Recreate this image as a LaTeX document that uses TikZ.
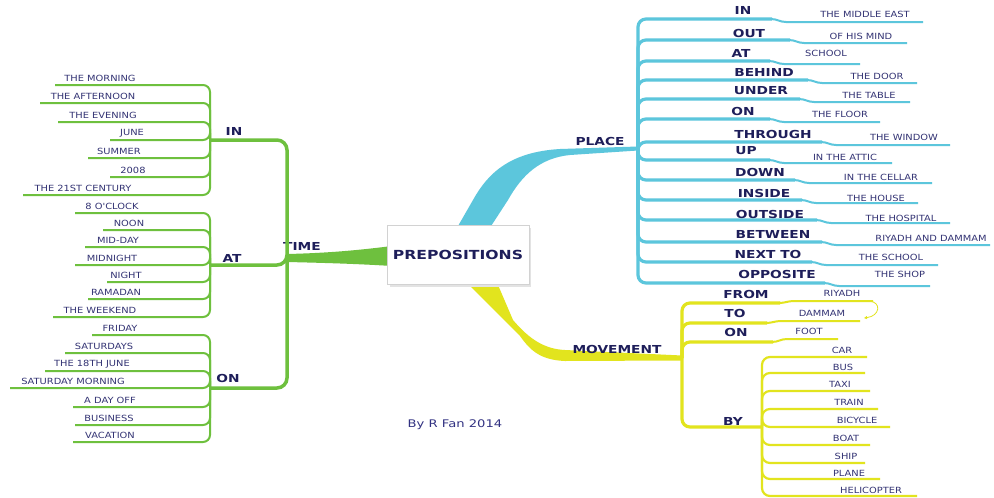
\documentclass[tikz,border=0pt]{standalone}
\usepackage{fontspec}
\setmainfont{DejaVu Sans}
\newfontfamily\leaffont[FakeStretch=1.16]{DejaVu Sans}
\newfontfamily\prepfont[FakeStretch=1.25]{DejaVu Sans}
\usetikzlibrary{arrows.meta}
\definecolor{grn}{RGB}{110,192,62}
\definecolor{blu}{RGB}{92,198,220}
\definecolor{ylw}{RGB}{226,228,30}
\definecolor{navy}{RGB}{30,30,90}
\definecolor{leafc}{RGB}{50,50,115}
\begin{document}
\begin{tikzpicture}[x=1pt,y=-1pt,
  leaf/.style={font=\leaffont\fontsize{8.5}{9}\selectfont, text=leafc, inner sep=0pt},
  prep/.style={font=\prepfont\bfseries\fontsize{11}{12}\selectfont, text=navy, inner sep=0pt},
  gleaf/.style={draw=grn, line width=2pt, rounded corners=7pt},
  gmain/.style={draw=grn, line width=3.5pt, rounded corners=10pt},
  bmain/.style={draw=blu, line width=3.2pt, rounded corners=8pt},
  bobj/.style={draw=blu, line width=2pt},
  ymain/.style={draw=ylw, line width=3.2pt, rounded corners=8pt},
  yobj/.style={draw=ylw, line width=2pt},
  ysub/.style={draw=ylw, line width=2.2pt, rounded corners=8pt}]
\useasboundingbox[fill=white] (0,0) rectangle (994,498);

% junction coordinates
\coordinate (tj) at (287,258);
\coordinate (gin) at (210,140);
\coordinate (gat) at (210,265);
\coordinate (gon) at (210,388);
\coordinate (pj) at (638,148);
\coordinate (mj) at (682,358);
\coordinate (bj) at (762,427);

% main bands
\fill[grn] (tj) ++(0,-4) .. controls (330,253) and (360,250) .. (392,246) -- (392,266) .. controls (360,264) and (330,263) .. (287,262) -- cycle;
\fill[blu] (450,240) -- (473,200) .. controls (488,173) and (510,152) .. (560,149) -- (638,146.5) -- (638,150.5) -- (570,155) .. controls (540,158) and (522,175) .. (508,200) -- (482,240) -- cycle;
\fill[ylw] (462,278) -- (520,336) .. controls (530,350) and (540,360) .. (565,361) -- (682,360.5) -- (682,355.5) -- (565,350) .. controls (545,349) and (530,340) .. (513,320) -- (495,278) -- cycle;

% TIME label (its T partly hidden by the trunk)
\node[prep] (time) at (302,246) {TIME};

% green trunk
\draw[gmain] (gin) -| (tj);
\draw[gmain] (gat) -| (tj);
\draw[gmain] (gon) -| (tj);

% green leaves
\foreach \tx/\cx/\ly/\sx [count=\i] in {THE MORNING/100/85/55, THE AFTERNOON/93/103/40, THE EVENING/103/122/58, JUNE/132/140/110, SUMMER/119/158/88, 2008/133/177/110, THE 21ST CENTURY/83/195/23}{
  \draw[gleaf] (\sx,\ly) -| (gin);
  \node[leaf] (gi\i) at (\cx,\ly-6.5) {\tx};
}
\foreach \tx/\cx/\ly/\sx [count=\i] in {8 O'CLOCK/112/213/75, NOON/129/230/103, MID-DAY/118/247/85, MIDNIGHT/112/265/75, NIGHT/126/282/107, RAMADAN/116/299/88, THE WEEKEND/100/317/53}{
  \draw[gleaf] (\sx,\ly) -| (gat);
  \node[leaf] (ga\i) at (\cx,\ly-6.5) {\tx};
}
\foreach \tx/\cx/\ly/\sx [count=\i] in {FRIDAY/120/335/92, SATURDAYS/104/353/65, THE 18TH JUNE/92/371/45, SATURDAY MORNING/73/388/10, A DAY OFF/110/407/73, BUSINESS/109/425/75, VACATION/110/442/73}{
  \draw[gleaf] (\sx,\ly) -| (gon);
  \node[leaf] (go\i) at (\cx,\ly-6.5) {\tx};
}
\node[prep] (tin) at (234,131) {IN};
\node[prep] (tat) at (232,258) {AT};
\node[prep] (ton) at (228,378) {ON};

% place branches
\foreach \pt/\ppx/\ppy/\ly/\sx/\ob/\obx/\oby/\ex [count=\i] in {
IN/743/10/19/772/THE MIDDLE EAST/865/14/923,
OUT/749/33/40/790/OF HIS MIND/861/36/907,
AT/741/53/61/770/SCHOOL/826/53/860,
BEHIND/764/72/80/808/THE DOOR/877/76/917,
UNDER/761/91/99/800/THE TABLE/869/95/910,
ON/743/111/119/770/THE FLOOR/840/114/880,
THROUGH/773/134/142/822/THE WINDOW/904/137/950,
UP/746/151/160/770/IN THE ATTIC/845/157/892,
DOWN/760/172/180/795/IN THE CELLAR/881/177/932,
INSIDE/764/193/200/802/THE HOUSE/876/198/918,
OUTSIDE/770/214/220/817/THE HOSPITAL/901/218/950,
BETWEEN/773/234/242/822/RIYADH AND DAMMAM/931/238/990,
NEXT TO/768/254/262/812/THE SCHOOL/891/257/938,
OPPOSITE/777/274/283/825/THE SHOP/900/274/930}{
  \draw[bmain] (pj) |- (\sx,\ly);
  \draw[bobj] (\sx-1,\ly) to[out=0,in=180] (\sx+14,\ly+3) -- (\ex,\ly+3);
  \node[prep] (pp\i) at (\ppx,\ppy) {\pt};
  \node[leaf] (po\i) at (\obx,\oby) {\ob};
}
\node[prep] (place) at (600,141) {PLACE};

% movement branches
\foreach \pt/\ppx/\ppy/\ly/\sx/\dy/\ob/\obx/\oby/\ex [count=\i] in {
FROM/746/294/303/780/-2/RIYADH/842/293/873,
TO/735/313/323/767/-2/DAMMAM/822/313/860,
ON/736/332/342/773/-3/FOOT/809/331/838}{
  \draw[ymain] (mj) |- (\sx,\ly);
  \draw[yobj] (\sx-1,\ly) to[out=0,in=180] (\sx+14,\ly+\dy) -- (\ex,\ly+\dy);
  \node[prep] (mp\i) at (\ppx,\ppy) {\pt};
  \node[leaf] (mo\i) at (\obx,\oby) {\ob};
}
\coordinate (rcurl) at (869,301);
\coordinate (dcurl) at (864,318);
\draw[ylw, line width=0.8pt, -{Triangle[length=3pt,width=3pt]}] (rcurl) .. controls (882,302) and (880,316) .. (dcurl);
\draw[ymain] (mj) |- (bj);
\node[prep] (by) at (733,421) {BY};
\foreach \tx/\cx/\cy/\ly/\ex [count=\i] in {CAR/842/350/357/867, BUS/843/367/373/865, TAXI/840/384/391/870, TRAIN/849/402/409/878, BICYCLE/857/420/427/890, BOAT/846/438/445/870, SHIP/846/456/463/865, PLANE/849/473/479/880, HELICOPTER/871/490/496/917}{
  \draw[ysub] (bj) |- (\ex,\ly);
  \node[leaf] (v\i) at (\cx,\cy) {\tx};
}
\node[prep] (movement) at (617,349) {MOVEMENT};

% central box
\fill[gray!22] (390,228) rectangle (531,287);
\node[draw=gray!35, line width=0.5pt, fill=white, inner sep=0pt, minimum width=142pt, minimum height=59pt, text=navy, font=\prepfont\bfseries\fontsize{12.5}{14}\selectfont] (root) at (458,254.5) {PREPOSITIONS};

% credit
\node[text={rgb,255:red,50;green,50;blue,130}, inner sep=0pt, font=\prepfont\fontsize{10.5}{12}\selectfont, anchor=base] (credit) at (455,427) {By R Fan 2014};
\end{tikzpicture}
\end{document}
